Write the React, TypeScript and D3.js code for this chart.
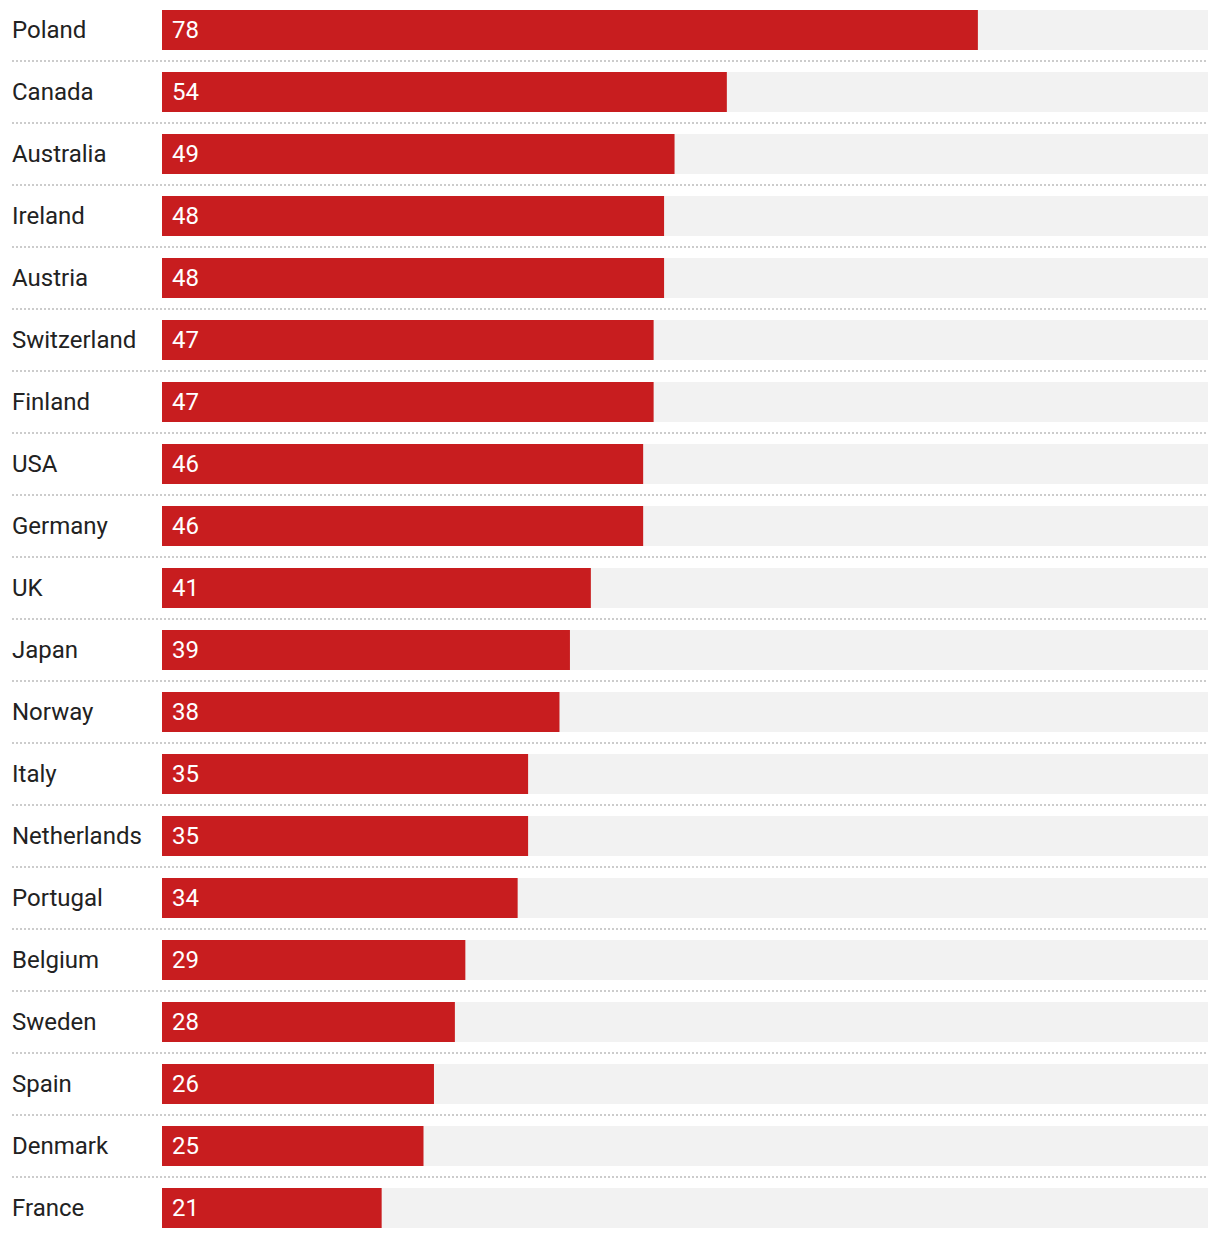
import React from "react";
import * as d3 from "d3";

const countries = ["Poland","Canada","Australia","Ireland","Austria","Switzerland","Finland","USA","Germany","UK","Japan","Norway","Italy","Netherlands","Portugal","Belgium","Sweden","Spain","Denmark","France"];
const values = [78,54,49,48,48,47,47,46,46,41,39,38,35,35,34,29,28,26,25,21];
const domainMax = 100;

export default function App() {
  const W = 1220, H = 1238;
  const x = d3.scaleLinear().domain([0, domainMax]).range([162, 1208]);
  const y = d3.scaleBand<string>().domain(countries).range([10, 1228]).paddingInner(22 / 62).paddingOuter(0);
  const bw = y.bandwidth();
  return (
    <svg width={W} height={H} style={{ position: "absolute", left: 0, top: 0, background: "#fff" }} fontFamily="Roboto, sans-serif">
      {countries.map((c, i) => {
        const yy = y(c) as number;
        return (
          <g key={c}>
            <rect x={x(0)} y={yy} width={x(domainMax) - x(0)} height={bw} fill="#f2f2f2" />
            <rect x={x(0)} y={yy} width={x(values[i]) - x(0)} height={bw} fill="#c81d1f" />
            <text x={12} y={yy + bw / 2} dy="0.35em" fontSize={24} fill="#222">{c}</text>
            <text x={172} y={yy + bw / 2} dy="0.35em" fontSize={24} fill="#fff">{values[i]}</text>
            {i < countries.length - 1 && (
              <line x1={12} x2={1208} y1={yy + bw + 11} y2={yy + bw + 11} stroke="#cccccc" strokeWidth={2} strokeDasharray="2,2" />
            )}
          </g>
        );
      })}
    </svg>
  );
}
